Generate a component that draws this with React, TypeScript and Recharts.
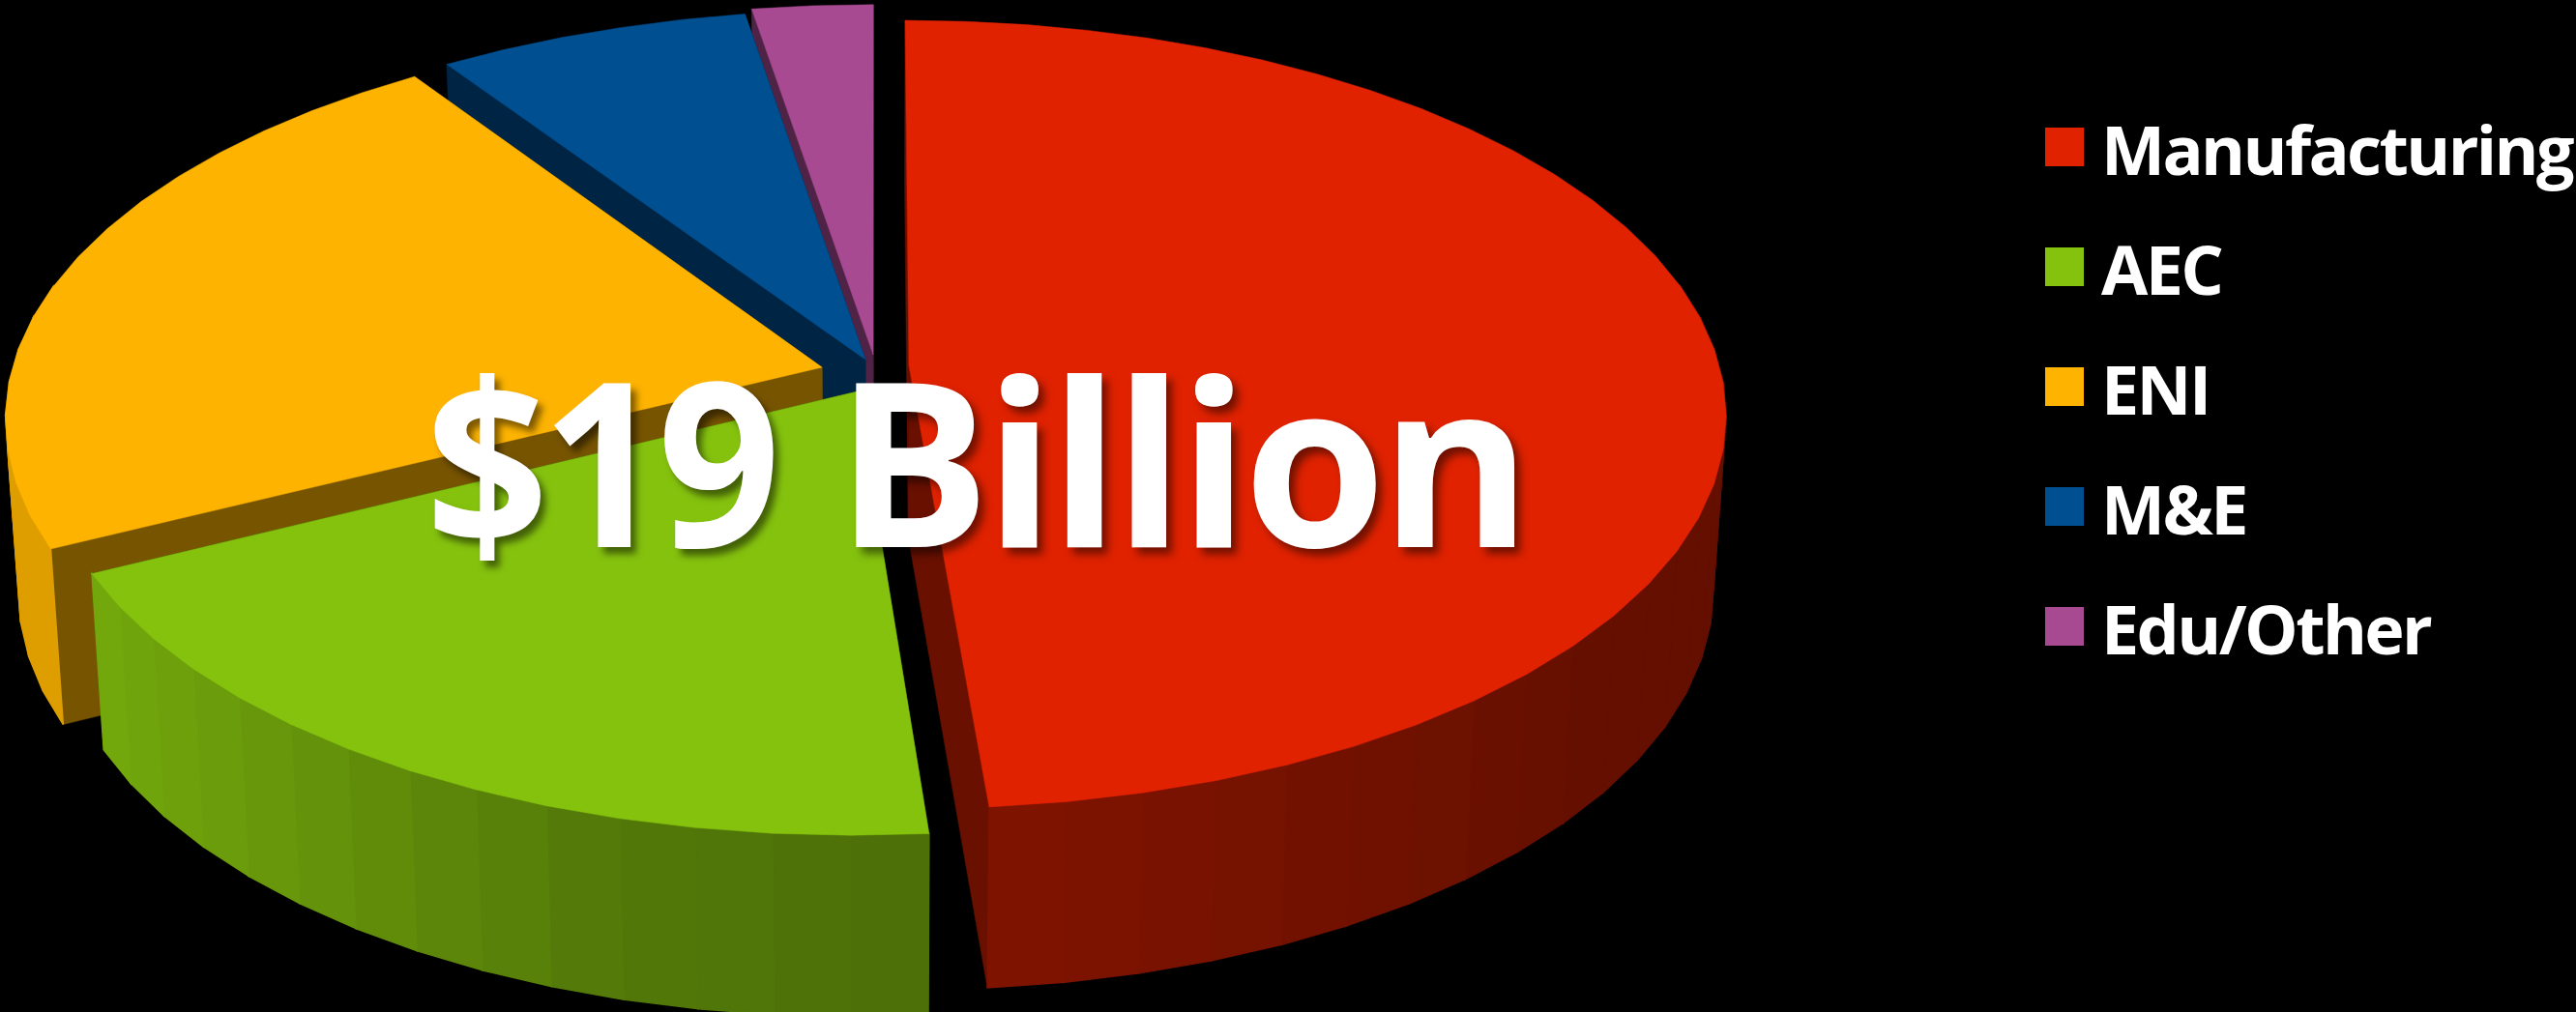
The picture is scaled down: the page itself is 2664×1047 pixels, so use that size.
import React from "react";
import { PieChart, Pie, Legend } from "recharts";

const categories = ["Manufacturing", "AEC", "ENI", "M&E", "Edu/Other"];
const shares = [48.7, 19.0, 22.8, 6.85, 2.65];
const colors = ["#E02200", "#85C20E", "#FDB300", "#004F90", "#A84A92"];

// how far each slice is pulled out of the pie, in radii, plus its radius factor
const explodeX = [0.0416, -0.0225, -0.0655, -0.012, -0.0024];
const explodeY = [-0.0174, 0.0498, -0.0124, -0.0324, -0.0449];
const radiusFactor = [1.0, 0.985, 0.998, 1.02, 1.024];

// wall brightness by compass angle around the pie
const shadeAngles = [60, 130, 175, 195, 225, 245, 300];
const shadeValues = [0.44, 0.45, 0.57, 0.62, 0.8, 0.88, 0.88];
const INNER_SHADE = 0.47;

const WIDTH = 2664;
const HEIGHT = 1047;
const CENTER_X = 905;
const CENTER_Y = 385;
const RADIUS = 840;
const TILT = 0.48;
const PERSPECTIVE = 0.125;
const STEP = 5;

// Pie draws in data order, so it runs counter-clockwise from the back slice
const pieData = categories
  .map((name, i) => ({ name, value: shares[i], fill: colors[i] }))
  .reverse();

const project = (x: number, y: number): [number, number] => {
  const d = 1 - PERSPECTIVE * y;
  return [CENTER_X + (RADIUS * x) / d, CENTER_Y + (RADIUS * TILT * y) / d];
};

const drop = ([x, y]: [number, number]): [number, number] => [
  CENTER_X + (x - CENTER_X) * 0.985,
  y + 178 + (y - CENTER_Y) * 0.02,
];

const shadeAt = (angle: number) => {
  for (let i = 1; i < shadeAngles.length; i++) {
    if (angle <= shadeAngles[i]) {
      const t = (angle - shadeAngles[i - 1]) / (shadeAngles[i] - shadeAngles[i - 1]);
      return shadeValues[i - 1] + t * (shadeValues[i] - shadeValues[i - 1]);
    }
  }
  return shadeValues[shadeValues.length - 1];
};

const darken = (hex: string, f: number) => {
  const n = parseInt(hex.slice(1), 16);
  const r = Math.round(((n >> 16) & 255) * f);
  const g = Math.round(((n >> 8) & 255) * f);
  const b = Math.round((n & 255) * f);
  return `rgb(${r},${g},${b})`;
};

const toPoints = (pts: [number, number][]) =>
  pts.map((p) => `${p[0].toFixed(1)},${p[1].toFixed(1)}`).join(" ");

const SliceShape = (props: any) => {
  const { name, fill, startAngle, endAngle } = props;
  const i = categories.indexOf(name);
  // recharts angles are counter-clockwise from 3 o'clock, walls want compass angles
  const from = 450 - Math.max(startAngle, endAngle);
  const to = 450 - Math.min(startAngle, endAngle);
  const steps = Math.max(1, Math.ceil((to - from) / STEP));
  const angles = Array.from({ length: steps + 1 }, (_, s) => from + ((to - from) * s) / steps);
  const r = radiusFactor[i];
  const rim = (a: number) =>
    project(
      explodeX[i] + r * Math.sin((a * Math.PI) / 180),
      explodeY[i] - r * Math.cos((a * Math.PI) / 180)
    );
  const apex = project(explodeX[i], explodeY[i]);
  const top = angles.map(rim);
  const inner = darken(fill, INNER_SHADE);

  return (
    <g>
      {[top[0], top[top.length - 1]].map((p, k) => (
        <polygon
          key={k}
          points={toPoints([apex, p, drop(p), drop(apex)])}
          fill={inner}
          stroke={inner}
          strokeWidth={0.5}
        />
      ))}
      {angles.slice(1).map((a, k) => {
        const mid = (a + angles[k]) / 2;
        if (Math.cos((mid * Math.PI) / 180) > 0.25) return null;
        const c = darken(fill, shadeAt(mid));
        return (
          <polygon
            key={k}
            points={toPoints([top[k], top[k + 1], drop(top[k + 1]), drop(top[k])])}
            fill={c}
            stroke={c}
            strokeWidth={1.5}
          />
        );
      })}
      <polygon points={toPoints([apex, ...top])} fill={fill} stroke={fill} strokeWidth={0.5} />
    </g>
  );
};

const LegendList = () => (
  <div style={{ position: "relative", width: 549, height: 700 }}>
    {categories.map((name, i) => (
      <div key={name}>
        <div
          style={{
            position: "absolute",
            left: 0,
            top: 132 + i * 124,
            width: 40,
            height: 40,
            background: colors[i],
          }}
        />
        <div
          style={{
            position: "absolute",
            left: 58,
            top: 132 + i * 124 - 46,
            lineHeight: "136px",
            height: 136,
            fontFamily: "'Open Sans', sans-serif",
            fontSize: 70,
            fontWeight: 700,
            letterSpacing: -2.6,
            color: "#fff",
            whiteSpace: "nowrap",
          }}
        >
          {name}
        </div>
      </div>
    ))}
  </div>
);

export default function App() {
  return (
    <div
      style={{
        position: "absolute",
        left: 0,
        top: 0,
        width: WIDTH,
        height: HEIGHT,
        background: "#000",
        overflow: "hidden",
      }}
    >
      <PieChart
        width={WIDTH}
        height={HEIGHT}
        margin={{ top: 0, right: 0, bottom: 0, left: 0 }}
      >
        <Pie
          data={pieData}
          dataKey="value"
          nameKey="name"
          cx={CENTER_X}
          cy={CENTER_Y}
          outerRadius={RADIUS}
          startAngle={90}
          endAngle={450}
          stroke="none"
          shape={SliceShape}
          isAnimationActive={false}
        />
        <Legend
          layout="vertical"
          align="right"
          verticalAlign="top"
          content={() => <LegendList />}
          wrapperStyle={{ left: 2115, top: 0, right: "auto", width: 549 }}
        />
      </PieChart>
      <div
        style={{
          position: "absolute",
          left: 440,
          top: 565 - 256,
          lineHeight: "330px",
          fontFamily: "'Open Sans', sans-serif",
          fontSize: 238,
          fontWeight: 700,
          color: "#fff",
          whiteSpace: "nowrap",
          textShadow: "6px 7px 8px rgba(0,0,0,0.5)",
        }}
      >
        <span
          style={{
            display: "inline-block",
            width: 424,
            letterSpacing: -8,
            transform: "scaleX(0.937)",
            transformOrigin: "0 50%",
          }}
        >
          $19{" "}
        </span>
        <span style={{ letterSpacing: -5.7 }}>Billion</span>
      </div>
    </div>
  );
}
